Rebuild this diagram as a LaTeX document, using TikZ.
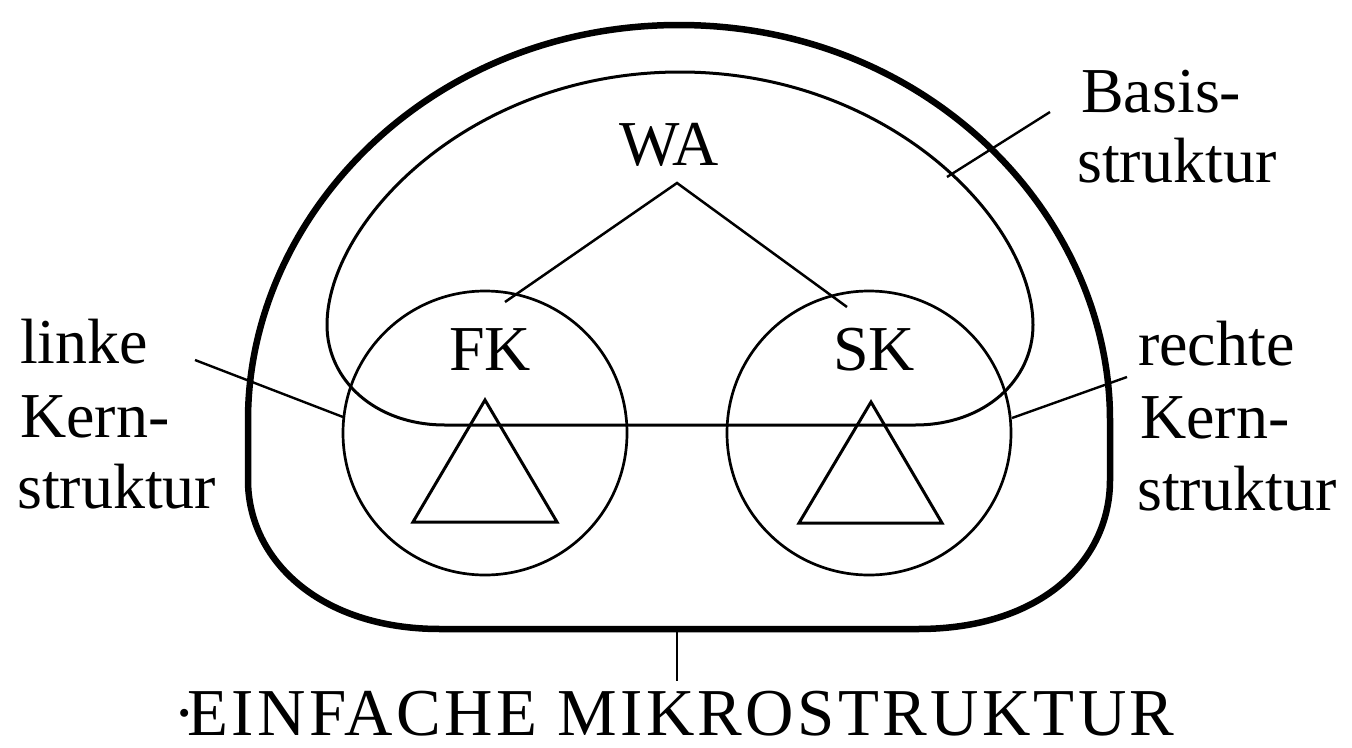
\documentclass[tikz,border=0pt]{standalone}
\usepackage{fontspec}
\setmainfont{Liberation Serif}
\begin{document}
\begin{tikzpicture}[x=1pt,y=-1pt,
  outerline/.style={line width=6.5pt, line join=round},
  innerline/.style={line width=3pt, line join=round},
  thinline/.style={line width=2.5pt},
  leader/.style={line width=2.4pt},
  ring/.style={circle, draw, line width=2.7pt, minimum size=284pt, inner sep=0pt},
  lbl/.style={font=\fontsize{64}{70}\selectfont, inner sep=0pt, anchor=base west},
  mid/.style={font=\fontsize{64}{70}\selectfont, inner sep=0pt, anchor=base}]
\useasboundingbox (0,0) rectangle (1352,747);

% outer thick shape (Mikrostruktur)
\draw[outerline] (248,480) -- (248,420)
  .. controls (248,215) and (430,25) .. (679,25)
  .. controls (928,25) and (1110,215) .. (1110,420)
  -- (1110,480)
  .. controls (1110,562) and (1040,629) .. (918,629)
  -- (440,629)
  .. controls (320,629) and (248,560) .. (248,480) -- cycle;

% inner shape (Basisstruktur)
\draw[innerline] (327,325)
  .. controls (327,222) and (470,72) .. (680,72)
  .. controls (890,72) and (1033,222) .. (1033,325)
  .. controls (1033,380) and (985,425) .. (915,425)
  -- (445,425)
  .. controls (375,425) and (327,380) .. (327,325) -- cycle;

% circles (Kernstrukturen)
\node[ring] (FKc) at (485,433) {};
\node[ring] (SKc) at (869,433) {};

% triangles
\draw[innerline, line join=miter] (485,400) -- (557,522) -- (413,522) -- cycle;
\draw[innerline, line join=miter] (871,402) -- (942,523) -- (799,523) -- cycle;

% texts inside
\node[mid] (WA) at (669,165) {WA};
\node[mid] (FK) at (490,370) {FK};
\node[mid] (SK) at (874,370) {SK};

% WA connectors
\coordinate (peak) at (677,183);
\coordinate (fkend) at (505,302);
\coordinate (skend) at (847,307);
\draw[thinline] (fkend) -- (peak) -- (skend);

% labels
\node[lbl] (linke) at (20,363) {linke};
\node[lbl] (lkern) at (20,437) {Kern-};
\node[lbl] (lstr) at (17,508) {struktur};

\node[lbl] (basis) at (1081,112) {Basis-};
\node[lbl] (bstr) at (1077,182) {struktur};

\node[lbl] (rechte) at (1138,365) {rechte};
\node[lbl] (rkern) at (1140,438) {Kern-};
\node[lbl] (rstr) at (1137,510) {struktur};

\node[font=\fontsize{67}{72}\selectfont\addfontfeature{LetterSpace=5}, inner sep=0pt, anchor=base] (einf) at (674,735) {·\kern-8pt EINFACHE MIKROSTRUKTUR};

% leader lines
\coordinate (l1) at (195,360);
\coordinate (l2) at (343,417);
\draw[leader] (l1) -- (l2);
\coordinate (r1) at (1127,377);
\coordinate (r2) at (1012,418);
\draw[leader] (r1) -- (r2);
\coordinate (b1) at (1050,112);
\coordinate (b2) at (947,177);
\draw[leader] (b1) -- (b2);
\coordinate (m1) at (677,629);
\coordinate (m2) at (677,681);
\draw[leader] (m1) -- (m2);
\end{tikzpicture}
\end{document}
